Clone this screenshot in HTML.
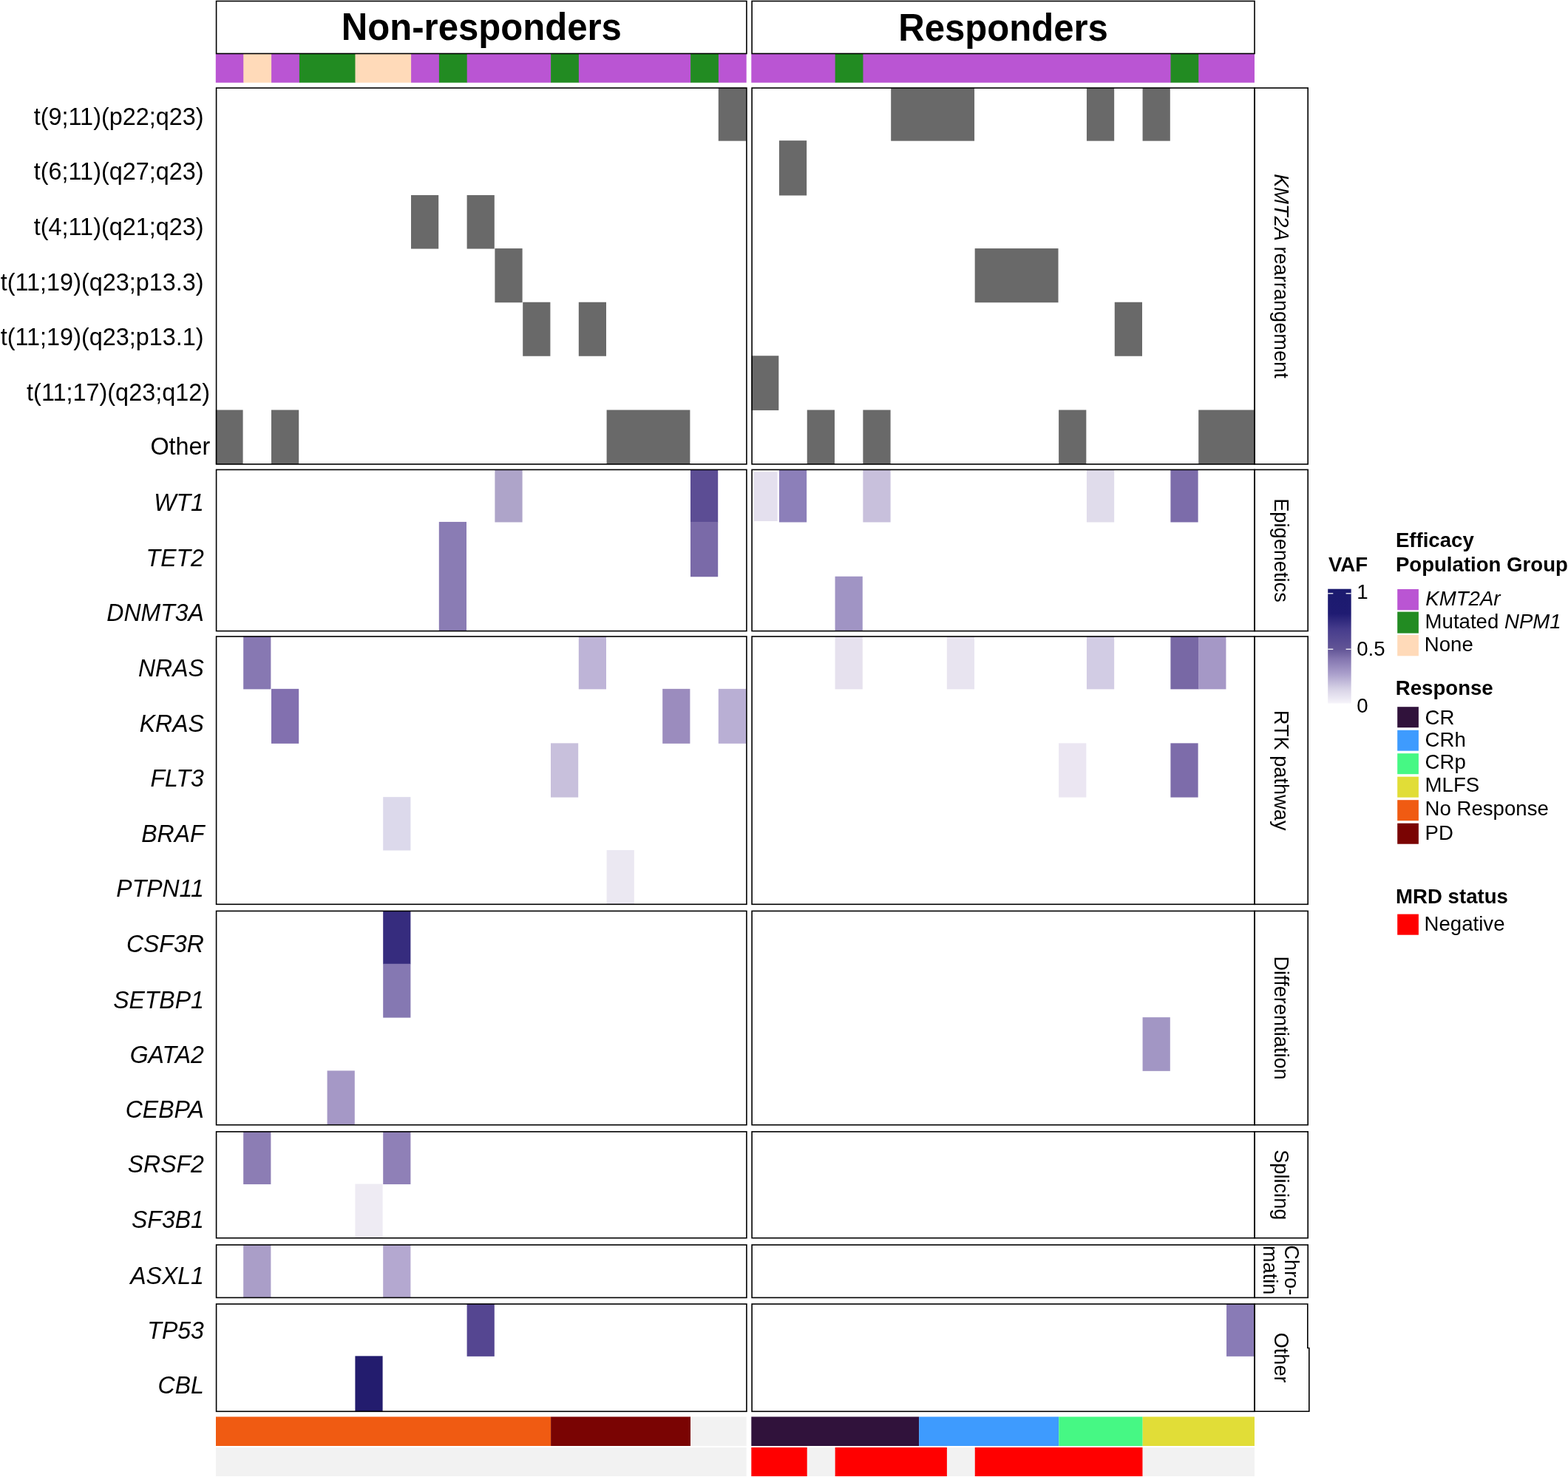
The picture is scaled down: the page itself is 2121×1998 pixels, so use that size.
<!DOCTYPE html><html><head><meta charset="utf-8"><style>html,body{margin:0;padding:0;background:#fff;overflow:hidden}svg{display:block}text{font-family:"Liberation Sans", Arial, Helvetica, sans-serif}</style></head><body>
<svg width="2121" height="1998" viewBox="0 0 2121 1998">
<rect width="2121" height="1998" fill="#fff"/>
<rect x="291.8" y="72.5" width="38.1" height="39.3" fill="#BA55D3"/>
<rect x="329.3" y="72.5" width="38.4" height="39.3" fill="#FFDAB9"/>
<rect x="367.1" y="72.5" width="38.4" height="39.3" fill="#BA55D3"/>
<rect x="404.9" y="72.5" width="76.2" height="39.3" fill="#228B22"/>
<rect x="480.5" y="72.5" width="76.2" height="39.3" fill="#FFDAB9"/>
<rect x="556.1" y="72.5" width="38.4" height="39.3" fill="#BA55D3"/>
<rect x="593.9" y="72.5" width="38.4" height="39.3" fill="#228B22"/>
<rect x="631.7" y="72.5" width="114" height="39.3" fill="#BA55D3"/>
<rect x="745.1" y="72.5" width="38.4" height="39.3" fill="#228B22"/>
<rect x="782.9" y="72.5" width="151.8" height="39.3" fill="#BA55D3"/>
<rect x="934.1" y="72.5" width="38.4" height="39.3" fill="#228B22"/>
<rect x="971.9" y="72.5" width="37.8" height="39.3" fill="#BA55D3"/>
<rect x="1016.3" y="72.5" width="113.96" height="39.3" fill="#BA55D3"/>
<rect x="1129.66" y="72.5" width="38.42" height="39.3" fill="#228B22"/>
<rect x="1167.48" y="72.5" width="416.62" height="39.3" fill="#BA55D3"/>
<rect x="1583.5" y="72.5" width="38.42" height="39.3" fill="#228B22"/>
<rect x="1621.32" y="72.5" width="75.64" height="39.3" fill="#BA55D3"/>
<rect x="971.8" y="118.75" width="37.2" height="71.9" fill="#696969"/>
<rect x="556" y="263.95" width="37.2" height="72.6" fill="#696969"/>
<rect x="631.6" y="263.95" width="37.2" height="72.6" fill="#696969"/>
<rect x="669.4" y="336.05" width="37.2" height="73.2" fill="#696969"/>
<rect x="707.2" y="408.75" width="37.2" height="73" fill="#696969"/>
<rect x="782.8" y="408.75" width="37.2" height="73" fill="#696969"/>
<rect x="291.8" y="554.55" width="36.8" height="73.6" fill="#696969"/>
<rect x="367" y="554.55" width="37.2" height="73.6" fill="#696969"/>
<rect x="820.6" y="554.55" width="112.8" height="73.6" fill="#696969"/>
<rect x="669.4" y="635.15" width="37.2" height="71.3" fill="#AEA4C9"/>
<rect x="934" y="635.15" width="37.2" height="71.3" fill="#5C4D94"/>
<rect x="593.8" y="705.95" width="37.2" height="147.9" fill="#8A7CB4"/>
<rect x="934" y="705.95" width="37.2" height="74.3" fill="#7A6AA8"/>
<rect x="329.2" y="860.75" width="37.2" height="71.6" fill="#8778B2"/>
<rect x="782.8" y="860.75" width="37.2" height="71.6" fill="#BEB4D7"/>
<rect x="367" y="931.85" width="37.2" height="74" fill="#8270AF"/>
<rect x="896.2" y="931.85" width="37.2" height="74" fill="#9B8CBE"/>
<rect x="971.8" y="931.85" width="37.2" height="74" fill="#B9AFD4"/>
<rect x="745" y="1005.35" width="37.2" height="73.3" fill="#C8C0DC"/>
<rect x="518.2" y="1078.15" width="37.2" height="72.3" fill="#DCD9EB"/>
<rect x="820.6" y="1149.95" width="37.2" height="73.6" fill="#EBE8F2"/>
<rect x="518.2" y="1232.15" width="37.2" height="72.1" fill="#362C7E"/>
<rect x="518.2" y="1303.75" width="37.2" height="72.9" fill="#8578B2"/>
<rect x="442.6" y="1448.35" width="37.2" height="73.6" fill="#A598C6"/>
<rect x="329.2" y="1530.65" width="37.2" height="71.4" fill="#8C7DB4"/>
<rect x="518.2" y="1530.65" width="37.2" height="71.4" fill="#8F80B7"/>
<rect x="480.4" y="1601.55" width="37.2" height="73.4" fill="#EEEBF3"/>
<rect x="329.2" y="1683.75" width="37.2" height="71.9" fill="#AA9EC8"/>
<rect x="518.2" y="1683.75" width="37.2" height="71.9" fill="#B4A8D0"/>
<rect x="631.6" y="1763.75" width="37.2" height="71.1" fill="#554691"/>
<rect x="480.4" y="1834.35" width="37.2" height="75.2" fill="#231C6E"/>
<rect x="1205.2" y="118.75" width="112.86" height="71.9" fill="#696969"/>
<rect x="1469.94" y="118.75" width="37.22" height="71.9" fill="#696969"/>
<rect x="1545.58" y="118.75" width="37.22" height="71.9" fill="#696969"/>
<rect x="1053.92" y="190.15" width="37.22" height="74.3" fill="#696969"/>
<rect x="1318.66" y="336.05" width="112.86" height="73.2" fill="#696969"/>
<rect x="1507.76" y="408.75" width="37.22" height="73" fill="#696969"/>
<rect x="1016.3" y="481.25" width="37.02" height="73.8" fill="#696969"/>
<rect x="1091.74" y="554.55" width="37.22" height="73.6" fill="#696969"/>
<rect x="1167.38" y="554.55" width="37.22" height="73.6" fill="#696969"/>
<rect x="1432.12" y="554.55" width="37.22" height="73.6" fill="#696969"/>
<rect x="1621.22" y="554.55" width="75.04" height="73.6" fill="#696969"/>
<rect x="1053.92" y="635.15" width="37.22" height="71.3" fill="#8C7FB9"/>
<rect x="1167.38" y="635.15" width="37.22" height="71.3" fill="#C8C0DC"/>
<rect x="1469.94" y="635.15" width="37.22" height="71.3" fill="#E0DCEB"/>
<rect x="1583.4" y="635.15" width="37.22" height="71.3" fill="#7C6CAA"/>
<rect x="1129.56" y="779.75" width="37.22" height="74.1" fill="#A094C4"/>
<rect x="1129.56" y="860.75" width="37.22" height="71.6" fill="#E6E1EE"/>
<rect x="1280.84" y="860.75" width="37.22" height="71.6" fill="#E8E4F0"/>
<rect x="1469.94" y="860.75" width="37.22" height="71.6" fill="#D2CCE4"/>
<rect x="1583.4" y="860.75" width="38.17" height="71.6" fill="#7868A5"/>
<rect x="1621.22" y="860.75" width="37.22" height="71.6" fill="#A598C6"/>
<rect x="1432.12" y="1005.35" width="37.22" height="73.3" fill="#EBE6F2"/>
<rect x="1583.4" y="1005.35" width="37.22" height="73.3" fill="#7D6CAA"/>
<rect x="1545.58" y="1376.15" width="37.22" height="72.7" fill="#A296C4"/>
<rect x="1659.04" y="1763.75" width="37.22" height="71.1" fill="#897BB6"/>
<rect x="1020.1" y="638.2" width="31.5" height="66.8" fill="#E4E0EE"/>
<rect x="292" y="1916.5" width="453.1" height="39.5" fill="#F05B12"/>
<rect x="745.1" y="1916.5" width="189" height="39.5" fill="#7A0403"/>
<rect x="934.1" y="1916.5" width="75.6" height="39.5" fill="#F2F2F2"/>
<rect x="1016.3" y="1916.5" width="226.82" height="39.5" fill="#30123B"/>
<rect x="1243.12" y="1916.5" width="189.1" height="39.5" fill="#3E9BFE"/>
<rect x="1432.22" y="1916.5" width="113.46" height="39.5" fill="#46F884"/>
<rect x="1545.68" y="1916.5" width="151.28" height="39.5" fill="#E1DD37"/>
<rect x="292" y="1958" width="717.7" height="39" fill="#F2F2F2"/>
<rect x="1016.3" y="1958" width="75.54" height="39" fill="#FF0000"/>
<rect x="1091.84" y="1958" width="37.82" height="39" fill="#F2F2F2"/>
<rect x="1129.66" y="1958" width="151.28" height="39" fill="#FF0000"/>
<rect x="1280.94" y="1958" width="37.82" height="39" fill="#F2F2F2"/>
<rect x="1318.76" y="1958" width="226.92" height="39" fill="#FF0000"/>
<rect x="1545.68" y="1958" width="151.28" height="39" fill="#F2F2F2"/>
<rect x="292.6" y="1.5" width="717.3" height="71" fill="none" stroke="#000" stroke-width="1.6"/>
<rect x="1017.1" y="1.5" width="679.9" height="71" fill="none" stroke="#000" stroke-width="1.6"/>
<rect x="292.6" y="119" width="717.3" height="508.9" fill="none" stroke="#000" stroke-width="1.6"/>
<rect x="1017.1" y="119" width="679.9" height="508.9" fill="none" stroke="#000" stroke-width="1.6"/>
<rect x="1697" y="119" width="72.2" height="508.9" fill="none" stroke="#000" stroke-width="1.6"/>
<rect x="292.6" y="635.4" width="717.3" height="218.2" fill="none" stroke="#000" stroke-width="1.6"/>
<rect x="1017.1" y="635.4" width="679.9" height="218.2" fill="none" stroke="#000" stroke-width="1.6"/>
<rect x="1697" y="635.4" width="72.2" height="218.2" fill="none" stroke="#000" stroke-width="1.6"/>
<rect x="292.6" y="861" width="717.3" height="362.3" fill="none" stroke="#000" stroke-width="1.6"/>
<rect x="1017.1" y="861" width="679.9" height="362.3" fill="none" stroke="#000" stroke-width="1.6"/>
<rect x="1697" y="861" width="72.2" height="362.3" fill="none" stroke="#000" stroke-width="1.6"/>
<rect x="292.6" y="1232.4" width="717.3" height="289.3" fill="none" stroke="#000" stroke-width="1.6"/>
<rect x="1017.1" y="1232.4" width="679.9" height="289.3" fill="none" stroke="#000" stroke-width="1.6"/>
<rect x="1697" y="1232.4" width="72.2" height="289.3" fill="none" stroke="#000" stroke-width="1.6"/>
<rect x="292.6" y="1530.9" width="717.3" height="143.8" fill="none" stroke="#000" stroke-width="1.6"/>
<rect x="1017.1" y="1530.9" width="679.9" height="143.8" fill="none" stroke="#000" stroke-width="1.6"/>
<rect x="1697" y="1530.9" width="72.2" height="143.8" fill="none" stroke="#000" stroke-width="1.6"/>
<rect x="292.6" y="1684" width="717.3" height="71.4" fill="none" stroke="#000" stroke-width="1.6"/>
<rect x="1017.1" y="1684" width="679.9" height="71.4" fill="none" stroke="#000" stroke-width="1.6"/>
<rect x="1697" y="1684" width="72.2" height="71.4" fill="none" stroke="#000" stroke-width="1.6"/>
<rect x="292.6" y="1764" width="717.3" height="145.3" fill="none" stroke="#000" stroke-width="1.6"/>
<rect x="1017.1" y="1764" width="679.9" height="145.3" fill="none" stroke="#000" stroke-width="1.6"/>
<path d="M1697 1764 H1768.8 V1823.5 H1770.8 V1909.3 H1697 Z" fill="none" stroke="#000" stroke-width="1.6"/>
<text transform="translate(461.8,54.3) scale(1,1.05)" font-size="49.1" font-weight="bold" text-anchor="start" fill="#000">Non-responders</text>
<text transform="translate(1215.2,54.7) scale(1,1.05)" font-size="49.1" font-weight="bold" text-anchor="start" fill="#000">Responders</text>
<text transform="translate(275.6,168.6) scale(1,1.04)" font-size="32.4" text-anchor="end" fill="#000">t(9;11)(p22;q23)</text>
<text transform="translate(275.6,242.5) scale(1,1.04)" font-size="32.4" text-anchor="end" fill="#000">t(6;11)(q27;q23)</text>
<text transform="translate(275.6,317.7) scale(1,1.04)" font-size="32.4" text-anchor="end" fill="#000">t(4;11)(q21;q23)</text>
<text transform="translate(275.6,393.2) scale(1,1.04)" font-size="32.4" text-anchor="end" fill="#000">t(11;19)(q23;p13.3)</text>
<text transform="translate(275.6,466.9) scale(1,1.04)" font-size="32.4" text-anchor="end" fill="#000">t(11;19)(q23;p13.1)</text>
<text transform="translate(284,541.8) scale(1,1.04)" font-size="32.4" text-anchor="end" fill="#000">t(11;17)(q23;q12)</text>
<text transform="translate(284.4,615) scale(1,1.04)" font-size="32.4" text-anchor="end" fill="#000">Other</text>
<text transform="translate(275.8,690.8) scale(1,1.04)" font-size="32" font-style="italic" text-anchor="end" fill="#000">WT1</text>
<text transform="translate(275.8,766.2) scale(1,1.04)" font-size="32" font-style="italic" text-anchor="end" fill="#000">TET2</text>
<text transform="translate(275.8,839.9) scale(1,1.04)" font-size="32" font-style="italic" text-anchor="end" fill="#000">DNMT3A</text>
<text transform="translate(275.8,914.8) scale(1,1.04)" font-size="32" font-style="italic" text-anchor="end" fill="#000">NRAS</text>
<text transform="translate(275.8,989.8) scale(1,1.04)" font-size="32" font-style="italic" text-anchor="end" fill="#000">KRAS</text>
<text transform="translate(275.8,1063.9) scale(1,1.04)" font-size="32" font-style="italic" text-anchor="end" fill="#000">FLT3</text>
<text transform="translate(276.5,1138.9) scale(1,1.04)" font-size="32" font-style="italic" text-anchor="end" fill="#000">BRAF</text>
<text transform="translate(275.8,1212.9) scale(1,1.04)" font-size="32" font-style="italic" text-anchor="end" fill="#000">PTPN11</text>
<text transform="translate(275.8,1288.3) scale(1,1.04)" font-size="32" font-style="italic" text-anchor="end" fill="#000">CSF3R</text>
<text transform="translate(275.8,1363.5) scale(1,1.04)" font-size="32" font-style="italic" text-anchor="end" fill="#000">SETBP1</text>
<text transform="translate(275.8,1437.8) scale(1,1.04)" font-size="32" font-style="italic" text-anchor="end" fill="#000">GATA2</text>
<text transform="translate(275.8,1512) scale(1,1.04)" font-size="32" font-style="italic" text-anchor="end" fill="#000">CEBPA</text>
<text transform="translate(275.8,1585.5) scale(1,1.04)" font-size="32" font-style="italic" text-anchor="end" fill="#000">SRSF2</text>
<text transform="translate(275.8,1661) scale(1,1.04)" font-size="32" font-style="italic" text-anchor="end" fill="#000">SF3B1</text>
<text transform="translate(275.8,1736.9) scale(1,1.04)" font-size="32" font-style="italic" text-anchor="end" fill="#000">ASXL1</text>
<text transform="translate(275.8,1810.6) scale(1,1.04)" font-size="32" font-style="italic" text-anchor="end" fill="#000">TP53</text>
<text transform="translate(275.8,1885.4) scale(1,1.04)" font-size="32" font-style="italic" text-anchor="end" fill="#000">CBL</text>
<text transform="translate(1723.8,373.45) rotate(90) scale(1,1.05)" font-size="27.2" text-anchor="middle"><tspan font-style="italic">KMT2A</tspan> rearrangement</text>
<text transform="translate(1723.8,744.5) rotate(90) scale(1,1.05)" font-size="27.2" text-anchor="middle" fill="#000">Epigenetics</text>
<text transform="translate(1723.8,1042.15) rotate(90) scale(1,1.05)" font-size="27.2" text-anchor="middle" fill="#000">RTK pathway</text>
<text transform="translate(1723.8,1377.05) rotate(90) scale(1,1.05)" font-size="27.2" text-anchor="middle" fill="#000">Differentiation</text>
<text transform="translate(1723.8,1602.8) rotate(90) scale(1,1.05)" font-size="27.2" text-anchor="middle" fill="#000">Splicing</text>
<text transform="translate(1723.8,1836.65) rotate(90) scale(1,1.05)" font-size="27.2" text-anchor="middle" fill="#000">Other</text>
<text transform="translate(1738.3,1718.2) rotate(90) scale(1,1.05)" font-size="27.2" text-anchor="middle" fill="#000">Chro-</text>
<text transform="translate(1709,1718.2) rotate(90) scale(1,1.05)" font-size="27.2" text-anchor="middle" fill="#000">matin</text>
<text transform="translate(1797,772.9)" font-size="27.6" font-weight="bold" text-anchor="start" fill="#000">VAF</text>
<text transform="translate(1887.9,740.3)" font-size="27.6" font-weight="bold" text-anchor="start" fill="#000">Efficacy</text>
<text transform="translate(1887.9,772.9)" font-size="27.6" font-weight="bold" text-anchor="start" fill="#000">Population Group</text>
<rect x="1890.2" y="797" width="28.7" height="28.3" fill="#BA55D3"/>
<rect x="1890.2" y="827.6" width="28.7" height="29" fill="#228B22"/>
<rect x="1890.2" y="859" width="28.7" height="28.3" fill="#FFDAB9"/>
<text transform="translate(1928.3,819.4)" font-size="27.6" font-style="italic" text-anchor="start" fill="#000">KMT2Ar</text>
<text transform="translate(1927.6,849.7)" font-size="27.6">Mutated <tspan font-style="italic">NPM1</tspan></text>
<text transform="translate(1926.8,881.2)" font-size="27.6" text-anchor="start" fill="#000">None</text>
<text transform="translate(1887.8,939.6)" font-size="27.6" font-weight="bold" text-anchor="start" fill="#000">Response</text>
<rect x="1890.2" y="956.2" width="28.7" height="28" fill="#30123B"/>
<text transform="translate(1927.6,979.8)" font-size="27.6" text-anchor="start" fill="#000">CR</text>
<rect x="1890.2" y="987.7" width="28.7" height="28" fill="#3E9BFE"/>
<text transform="translate(1927.6,1010.4)" font-size="27.6" text-anchor="start" fill="#000">CRh</text>
<rect x="1890.2" y="1019.2" width="28.7" height="28" fill="#46F884"/>
<text transform="translate(1927.6,1039.5)" font-size="27.6" text-anchor="start" fill="#000">CRp</text>
<rect x="1890.2" y="1050.7" width="28.7" height="28" fill="#E1DD37"/>
<text transform="translate(1927.6,1070.8)" font-size="27.6" text-anchor="start" fill="#000">MLFS</text>
<rect x="1890.2" y="1082.2" width="28.7" height="28" fill="#F05B12"/>
<text transform="translate(1927.6,1102.7)" font-size="27.6" text-anchor="start" fill="#000">No Response</text>
<rect x="1890.2" y="1113.7" width="28.7" height="28" fill="#7A0403"/>
<text transform="translate(1927.6,1136)" font-size="27.6" text-anchor="start" fill="#000">PD</text>
<text transform="translate(1888.1,1221.7)" font-size="27.6" font-weight="bold" text-anchor="start" fill="#000">MRD status</text>
<rect x="1890.2" y="1236.6" width="28.7" height="28.1" fill="#FF0000"/>
<text transform="translate(1926.6,1259.3)" font-size="27.6" text-anchor="start" fill="#000">Negative</text>
<defs><linearGradient id="vaf" x1="0" y1="0" x2="0" y2="1"><stop offset="0" stop-color="#1b1a6e"/><stop offset="0.215" stop-color="#1f1b72"/><stop offset="0.35" stop-color="#463c8c"/><stop offset="0.526" stop-color="#625596"/><stop offset="0.613" stop-color="#8476b0"/><stop offset="0.745" stop-color="#aba0cc"/><stop offset="0.874" stop-color="#d7d2e6"/><stop offset="1" stop-color="#f6f4fa"/></linearGradient></defs>
<rect x="1796.2" y="796.7" width="31.5" height="154.8" fill="url(#vaf)"/>
<line x1="1796.2" x2="1803.3" y1="802.8" y2="802.8" stroke="#fff" stroke-width="1.3"/>
<line x1="1820.6" x2="1827.7" y1="802.8" y2="802.8" stroke="#fff" stroke-width="1.3"/>
<line x1="1796.2" x2="1803.3" y1="878.2" y2="878.2" stroke="#fff" stroke-width="1.3"/>
<line x1="1820.6" x2="1827.7" y1="878.2" y2="878.2" stroke="#fff" stroke-width="1.3"/>
<text transform="translate(1835.2,810.4)" font-size="27.6" text-anchor="start" fill="#000">1</text>
<text transform="translate(1835.2,887)" font-size="27.6" text-anchor="start" fill="#000">0.5</text>
<text transform="translate(1835.2,963.7)" font-size="27.6" text-anchor="start" fill="#000">0</text>
</svg></body></html>
